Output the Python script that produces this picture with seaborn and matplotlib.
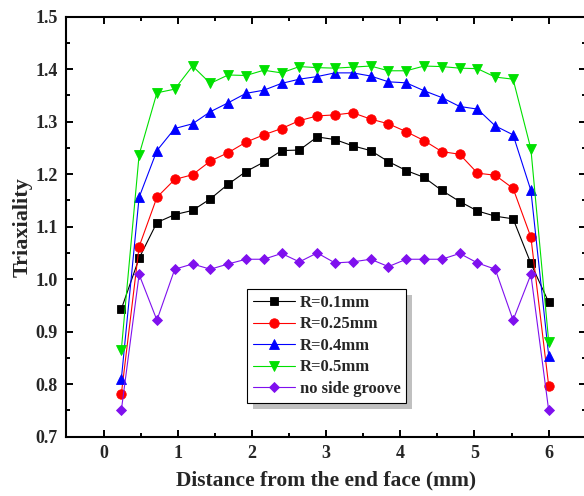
import matplotlib
matplotlib.use("Agg")
import matplotlib.pyplot as plt
from matplotlib.patches import Rectangle
from matplotlib.transforms import IdentityTransform
from matplotlib.ticker import MultipleLocator
import seaborn as sns
import pandas as pd

# Distance from the end face (mm)
dist = [0.24, 0.48, 0.72, 0.96, 1.20, 1.44, 1.68, 1.92, 2.16, 2.40, 2.64, 2.88, 3.12,
        3.36, 3.60, 3.84, 4.08, 4.32, 4.56, 4.80, 5.04, 5.28, 5.52, 5.76, 6.00]

# Stress triaxiality for each notch radius
r_01 = [0.943, 1.040, 1.108, 1.123, 1.131, 1.153, 1.181, 1.205, 1.223, 1.245, 1.246, 1.271, 1.266,
        1.254, 1.245, 1.224, 1.207, 1.194, 1.169, 1.148, 1.130, 1.120, 1.115, 1.030, 0.956]
r_025 = [0.781, 1.062, 1.156, 1.190, 1.199, 1.225, 1.241, 1.261, 1.275, 1.287, 1.302, 1.311, 1.313,
         1.317, 1.305, 1.296, 1.281, 1.264, 1.243, 1.238, 1.202, 1.198, 1.173, 1.080, 0.797]
r_04 = [0.809, 1.156, 1.245, 1.287, 1.296, 1.319, 1.336, 1.354, 1.360, 1.373, 1.381, 1.386, 1.393,
        1.393, 1.387, 1.376, 1.374, 1.359, 1.346, 1.329, 1.324, 1.292, 1.275, 1.169, 0.854]
r_05 = [0.865, 1.237, 1.355, 1.362, 1.406, 1.373, 1.389, 1.388, 1.398, 1.393, 1.405, 1.403, 1.402,
        1.404, 1.406, 1.397, 1.397, 1.406, 1.405, 1.402, 1.401, 1.385, 1.381, 1.248, 0.881]
no_groove = [0.750, 1.009, 0.922, 1.019, 1.029, 1.019, 1.029, 1.038, 1.038, 1.049, 1.033, 1.050, 1.031,
             1.033, 1.038, 1.024, 1.038, 1.038, 1.038, 1.049, 1.031, 1.019, 0.922, 1.009, 0.750]

labels = ["R=0.1mm", "R=0.25mm", "R=0.4mm", "R=0.5mm", "no side groove"]
series = [r_01, r_025, r_04, r_05, no_groove]
colors = ["#000000", "#ff0000", "#0000ff", "#00e000", "#7f10ee"]
markers = ["s", "o", "^", "v", "D"]
msizes = [5.8, 6.8, 7.2, 7.2, 5.0]

sns.set_theme(style="ticks")
plt.rcParams["font.family"] = ["Liberation Serif", "DejaVu Serif"]
plt.rcParams["font.weight"] = "bold"
plt.rcParams["axes.labelweight"] = "bold"

fig = plt.figure(figsize=(5.84, 4.96), dpi=100)
ax = fig.add_axes([66.4 / 584, 59.3 / 496, 519.4 / 584, 420 / 496])

for lab, vals, c, m, ms in zip(labels, series, colors, markers, msizes):
    df = pd.DataFrame({"dist": dist, "tri": vals})
    sns.lineplot(data=df, x="dist", y="tri", ax=ax, color=c, marker=m,
                 markersize=ms, markeredgecolor=c, markerfacecolor=c,
                 markeredgewidth=0.6, linewidth=0.8, label=lab, sort=False)

ax.set_xlim(-0.5, 6.5)
ax.set_ylim(0.7, 1.5)
ax.xaxis.set_major_locator(MultipleLocator(1))
ax.xaxis.set_minor_locator(MultipleLocator(0.5))
ax.yaxis.set_major_locator(MultipleLocator(0.1))
ax.yaxis.set_minor_locator(MultipleLocator(0.05))
ax.tick_params(which="both", direction="in", top=True, right=True, width=1.4,
               color="black")
ax.tick_params(which="major", length=5, labelsize=13, pad=6)
ax.tick_params(which="minor", length=2.8)
for lbl in ax.get_xticklabels() + ax.get_yticklabels():
    lbl.set_fontweight("bold")
for sp in ax.spines.values():
    sp.set_linewidth(1.5)
    sp.set_color("black")
    sp.set_visible(True)

ax.set_xlabel("Distance from the end face (mm)", fontsize=15.5, fontweight="bold", labelpad=6)
ax.set_ylabel("Triaxiality", fontsize=16, fontweight="bold", labelpad=2)

leg = ax.legend(loc="upper left", bbox_to_anchor=(247 / 584, 1 - 289 / 496),
                bbox_transform=fig.transFigure, borderaxespad=0,
                prop={"family": "Liberation Serif", "weight": "bold", "size": 12},
                handlelength=2.5, handletextpad=0.3, borderpad=0.35,
                labelspacing=0.33, fancybox=False, framealpha=1,
                edgecolor="black")
leg.get_frame().set_linewidth(0.8)
leg.set_zorder(6)

# drop shadow behind the legend box
fig.canvas.draw()
bb = leg.get_window_extent()
shadow = Rectangle((bb.x0 + 6, bb.y0 - 6), bb.width, bb.height,
                   transform=IdentityTransform(), facecolor="#c0c0c0",
                   edgecolor="none", zorder=5.5, clip_on=False)
ax.add_artist(shadow)

fig.savefig("out.png", dpi=100)
